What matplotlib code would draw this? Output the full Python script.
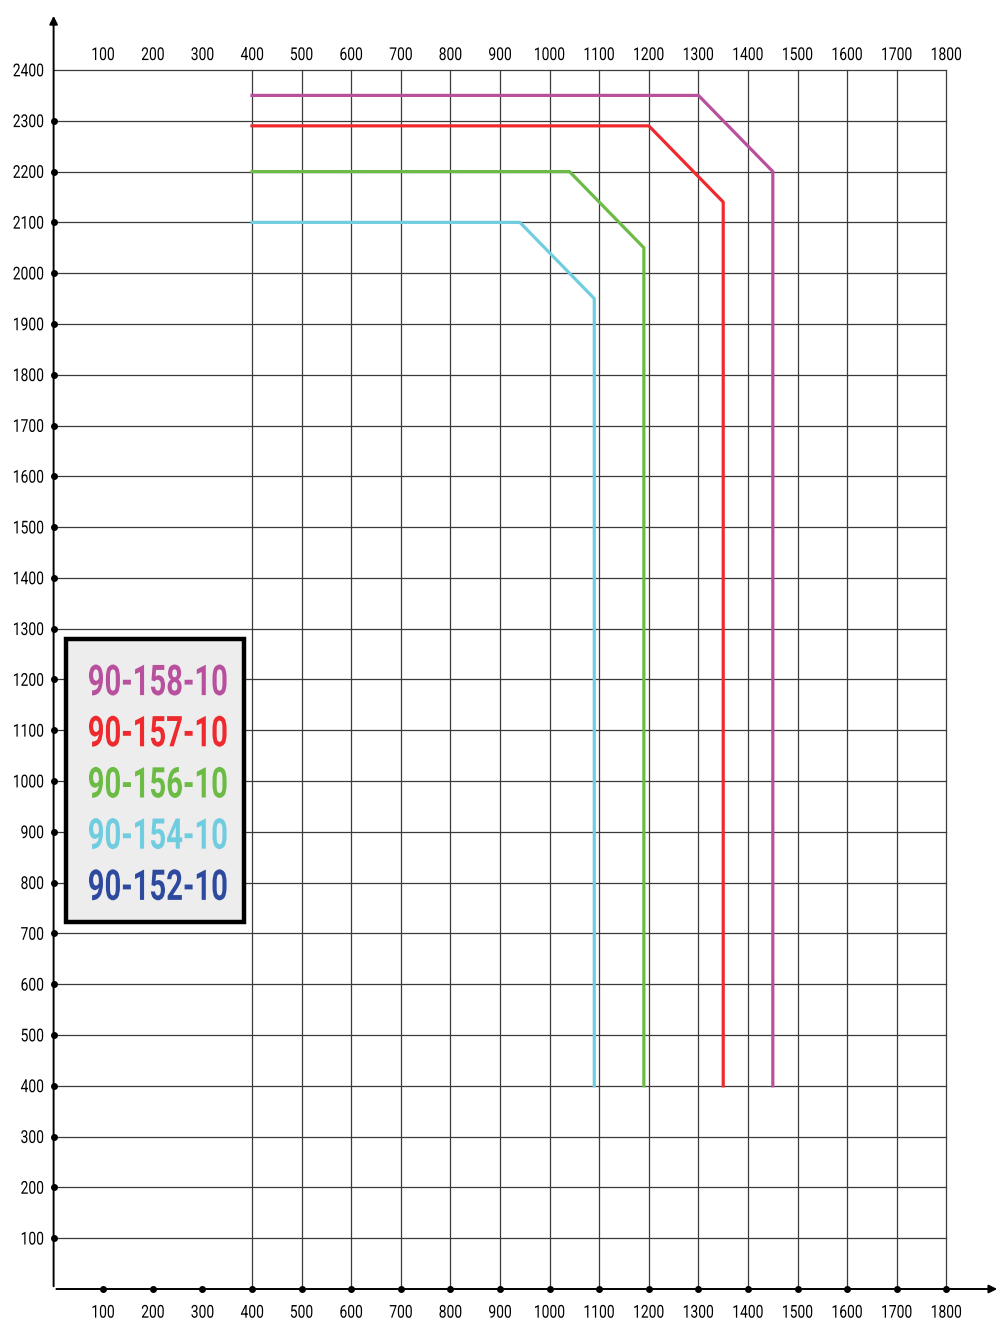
import matplotlib.pyplot as plt
from matplotlib.patches import Rectangle, PathPatch
from matplotlib.textpath import TextPath
from matplotlib.font_manager import FontProperties
from matplotlib.transforms import Affine2D

# valores
x_ticks = list(range(100, 1900, 100))
y_ticks = list(range(100, 2500, 100))
x_grid = list(range(400, 1900, 100))

nomes = ["90-158-10", "90-157-10", "90-156-10", "90-154-10", "90-152-10"]
cores = ["#b8509e", "#ee2a2f", "#6bbb44", "#70cde0", "#2e4a9e"]

x_158 = [400, 1300, 1450, 1450]
y_158 = [2350, 2350, 2200, 400]
x_157 = [400, 1200, 1350, 1350]
y_157 = [2290, 2290, 2140, 400]
x_156 = [400, 1040, 1190, 1190]
y_156 = [2200, 2200, 2050, 400]
x_154 = [400, 940, 1090, 1090]
y_154 = [2100, 2100, 1950, 400]

fig = plt.figure(figsize=(10, 13.22), dpi=100)
ax = fig.add_axes([0.0536, 0.02496, 0.9464, 0.9682])
ax.set_xlim(0, 1908)
ax.set_ylim(0, 2520)
ax.axis("off")


# texto estreito (fonte condensada não existe aqui, então escala o contorno)
def texto(x, y, s, altura, estreito, cor="black", peso="normal", ha="center"):
    fp = FontProperties(family="Roboto", weight=peso)
    tp = TextPath((0, 0), s, size=100, prop=fp)
    ext = tp.get_extents()
    esc = altura / ext.height
    sx = esc * estreito
    largura = ext.width * sx
    px, py = ax.transData.transform((x, y))
    if ha == "center":
        ox = px - largura / 2
    elif ha == "right":
        ox = px - largura
    else:
        ox = px
    oy = py - altura / 2
    tr = Affine2D().translate(-ext.x0, -ext.y0).scale(sx, esc).translate(ox, oy)
    ax.add_patch(PathPatch(tp, transform=tr, facecolor=cor, edgecolor="none",
                           lw=0, clip_on=False, zorder=7))


# grade
for y in y_ticks:
    ax.plot([0, 1800], [y, y], color="#3a3a3a", lw=0.9, zorder=1)
for x in x_grid:
    ax.plot([x, x], [0, 2400], color="#3a3a3a", lw=0.9, zorder=1)

# eixos com setas
ax.annotate("", xy=(1908, 0), xytext=(0, 0),
            arrowprops=dict(arrowstyle="-|>", color="black", lw=1.4,
                            mutation_scale=12), annotation_clip=False)
ax.annotate("", xy=(0, 2512), xytext=(0, 0),
            arrowprops=dict(arrowstyle="-|>", color="black", lw=1.4,
                            mutation_scale=12), annotation_clip=False)

# pontos nos eixos
ax.plot(x_ticks, [0] * len(x_ticks), "o", color="black", ms=4, clip_on=False, zorder=3)
ax.plot([0] * (len(y_ticks) - 1), y_ticks[:-1], "o", color="black", ms=4, clip_on=False, zorder=3)

# rótulos
for x in x_ticks:
    texto(x, 2432, str(x), 13, 0.78)
    texto(x, -44, str(x), 13, 0.78)
for y in y_ticks:
    texto(-21, y, str(y), 13, 0.78, ha="right")

# linhas
ax.plot(x_158, y_158, color=cores[0], lw=2.3, zorder=4)
ax.plot(x_157, y_157, color=cores[1], lw=2.3, zorder=4)
ax.plot(x_156, y_156, color=cores[2], lw=2.3, zorder=4)
ax.plot(x_154, y_154, color=cores[3], lw=2.3, zorder=4)

# caixa da legenda
caixa = Rectangle((25, 723), 359, 557, facecolor="#ededed", edgecolor="black",
                  lw=3.2, zorder=5)
ax.add_patch(caixa)
for i, (nome, cor) in enumerate(zip(nomes, cores)):
    texto(210, 1199 - i * 100.8, nome, 31, 0.69, cor=cor, peso="bold")

plt.savefig("out.png", dpi=100)
